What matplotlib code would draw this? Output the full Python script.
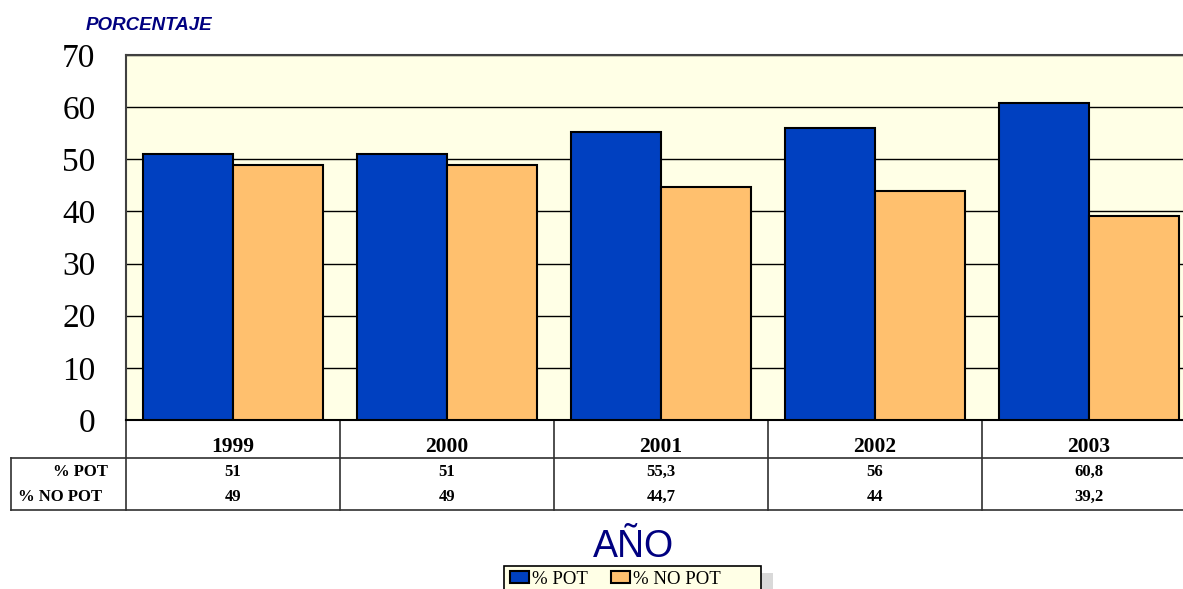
import matplotlib
matplotlib.use("Agg")
import matplotlib.pyplot as plt
import matplotlib.transforms as mtransforms
from matplotlib.lines import Line2D
from matplotlib.patches import Rectangle

# datos
years = ["1999", "2000", "2001", "2002", "2003"]
pot = [51, 51, 55.3, 56, 60.8]
no_pot = [49, 49, 44.7, 44, 39.2]
pot_txt = ["51", "51", "55,3", "56", "60,8"]
no_pot_txt = ["49", "49", "44,7", "44", "39,2"]
series_names = ["% POT", "% NO POT"]

W, H = 1183, 589
fig = plt.figure(figsize=(W / 100, H / 100), dpi=100)
fig.patch.set_facecolor("white")

# area de trazado (se sale un poco por la derecha, como en el original)
ax_l, ax_r, ax_t, ax_b = 126, 1196, 55, 420
ax = fig.add_axes([ax_l / W, 1 - ax_b / H, (ax_r - ax_l) / W, (ax_b - ax_t) / H])
ax.set_facecolor("#FFFFE6")

x = list(range(len(years)))
bw = 0.42
ax.bar([i - bw / 2 for i in x], pot, width=bw, color="#0040C0",
       edgecolor="black", linewidth=1.5, zorder=3, label=series_names[0])
ax.bar([i + bw / 2 for i in x], no_pot, width=bw, color="#FFC06E",
       edgecolor="black", linewidth=1.5, zorder=3, label=series_names[1])

ax.set_xlim(-0.5, len(years) - 0.5)
ax.set_ylim(0, 70)
ax.set_yticks(range(0, 71, 10))
ax.yaxis.grid(True, color="black", linewidth=1)
ax.set_axisbelow(True)
ax.set_xticks([])
ax.tick_params(axis="y", length=0, pad=22)
for lab in ax.get_yticklabels():
    lab.set_fontfamily("Liberation Serif")
    lab.set_fontsize(24)
for s in ["left", "top"]:
    ax.spines[s].set_color("#404040")
    ax.spines[s].set_linewidth(1.5)
ax.spines["bottom"].set_color("black")
ax.spines["bottom"].set_linewidth(1.5)
ax.spines["right"].set_visible(False)

# tabla de datos bajo el eje
tr = mtransforms.blended_transform_factory(ax.transData, ax.transAxes)
ph = ax_b - ax_t
def yfrac(py):
    return (ax_b - py) / ph

row_top = yfrac(458)
row_bot = yfrac(510)
x_left = -0.5 + (11 - ax_l) / ((ax_r - ax_l) / len(years))
lw = 1.2
col = "#303030"
for b in [i - 0.5 for i in range(len(years) + 1)]:
    ax.add_line(Line2D([b, b], [0, row_bot], transform=tr, color=col,
                       linewidth=lw, clip_on=False))
for yy in [row_top, row_bot]:
    ax.add_line(Line2D([x_left, len(years) - 0.5], [yy, yy], transform=tr,
                       color=col, linewidth=lw, clip_on=False))
ax.add_line(Line2D([x_left, x_left], [row_top, row_bot], transform=tr,
                   color=col, linewidth=lw, clip_on=False))

for i, y in enumerate(years):
    ax.text(i, yfrac(447), y, transform=tr, ha="center", va="center",
            fontfamily="Liberation Serif", fontweight="bold", fontsize=15.5)
    ax.text(i, yfrac(472), pot_txt[i], transform=tr, ha="center", va="center",
            fontfamily="Liberation Serif", fontweight="bold", fontsize=12)
    ax.text(i, yfrac(497), no_pot_txt[i], transform=tr, ha="center", va="center",
            fontfamily="Liberation Serif", fontweight="bold", fontsize=12)

fig.text(53 / W, 1 - 472 / H, series_names[0], ha="left", va="center",
         fontfamily="Liberation Serif", fontweight="bold", fontsize=12)
fig.text(18 / W, 1 - 497 / H, series_names[1], ha="left", va="center",
         fontfamily="Liberation Serif", fontweight="bold", fontsize=12)

# titulos
fig.text(86 / W, 1 - 25 / H, "PORCENTAJE", ha="left", va="center",
         fontfamily="Liberation Sans", fontweight="bold", fontstyle="italic",
         fontsize=13.5, color="#000080")
fig.text(633 / W, 1 - 547 / H, "AÑO", ha="center", va="center",
         fontfamily="Liberation Sans", fontsize=27, color="#000080")

# caja de la leyenda con sombra
fig.add_artist(Rectangle((511 / W, 1 - 620 / H), 262 / W, (620 - 573) / H,
                         transform=fig.transFigure, facecolor="#D9D9D9",
                         edgecolor="none", zorder=4))
fig.add_artist(Rectangle((504 / W, 1 - 620 / H), 257 / W, (620 - 566) / H,
                         transform=fig.transFigure, facecolor="#FFFFE6",
                         edgecolor="black", linewidth=1.2, zorder=5))
leg = fig.legend(loc="upper left", bbox_to_anchor=(506 / W, 1 - 567 / H), ncol=2,
                 prop={"family": "Liberation Serif", "size": 13.5},
                 frameon=False, borderpad=0.2,
                 handlelength=1.05, handleheight=0.6, handletextpad=0.15,
                 columnspacing=1.2, borderaxespad=0)
leg.set_zorder(6)

fig.savefig("out.png", dpi=100)
